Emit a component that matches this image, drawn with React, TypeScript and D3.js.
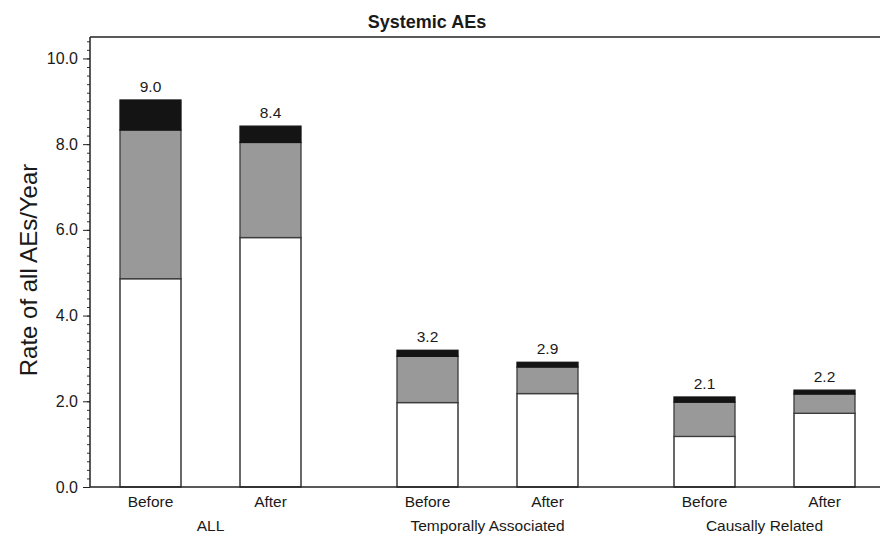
import React, { useEffect, useRef } from 'react';
import * as d3 from 'd3';

// Data
const groups = ['ALL', 'Temporally Associated', 'Causally Related'];
const periods = ['Before', 'After'];
// segment values, order: ALL-Before, ALL-After, TA-Before, TA-After, CR-Before, CR-After
const whiteVals = [4.86, 5.82, 1.97, 2.18, 1.18, 1.72];
const grayVals = [3.47, 2.22, 1.08, 0.62, 0.8, 0.45];
const blackVals = [0.7, 0.38, 0.14, 0.11, 0.12, 0.09];
const totalLabels = ['9.0', '8.4', '3.2', '2.9', '2.1', '2.2'];
const yTicks = [0, 2, 4, 6, 8, 10];

const FONT = '"Liberation Sans", Arial, Helvetica, sans-serif';

const App = () => {
  const svgRef = useRef(null);

  useEffect(() => {
    d3.select(svgRef.current).selectAll('*').remove();

    const W = 880;
    const H = 538;
    const left = 90;
    const right = 880;
    const top = 37;
    const bottom = 487;

    const svg = d3
      .select(svgRef.current)
      .attr('width', W)
      .attr('height', H)
      .style('font-family', FONT);

    // scales
    const yScale = d3.scaleLinear().domain([0, 10.5]).range([bottom, top]);
    const xGroup = d3.scaleBand().domain(groups).range([72, 903]).padding(0);
    const xInner = d3
      .scaleBand()
      .domain(periods)
      .range([48, 229])
      .paddingInner(59 / 120)
      .paddingOuter(0);

    const bars = [];
    groups.forEach((g, gi) => {
      periods.forEach((p, pi) => {
        const i = gi * 2 + pi;
        const x = xGroup(g) + xInner(p);
        const w = xInner.bandwidth();
        const s0 = whiteVals[i];
        const s1 = s0 + grayVals[i];
        const s2 = s1 + blackVals[i];
        bars.push({ g, p, x, w, segs: [[0, s0], [s0, s1], [s1, s2]], label: totalLabels[i] });
      });
    });

    const fills = ['#ffffff', '#999999', '#141414'];
    const strokes = ['#1a1a1a', '#3c3c3c', '#141414'];

    // bars
    const barG = svg.append('g');
    bars.forEach((b) => {
      b.segs.forEach((s, k) => {
        barG
          .append('rect')
          .attr('x', b.x)
          .attr('y', yScale(s[1]))
          .attr('width', b.w)
          .attr('height', yScale(s[0]) - yScale(s[1]))
          .attr('fill', fills[k])
          .attr('stroke', strokes[k])
          .attr('stroke-width', 1.3);
      });
      // total labels
      barG
        .append('text')
        .attr('x', b.x + b.w / 2)
        .attr('y', yScale(b.segs[2][1]) - 8)
        .attr('text-anchor', 'middle')
        .attr('font-size', 15.5)
        .attr('fill', '#1a1a1a')
        .text(b.label);
    });

    // frame lines: top and bottom
    svg
      .append('line')
      .attr('x1', left)
      .attr('x2', right)
      .attr('y1', top)
      .attr('y2', top)
      .attr('stroke', '#222')
      .attr('stroke-width', 1.5);
    svg
      .append('line')
      .attr('x1', left)
      .attr('x2', right)
      .attr('y1', bottom)
      .attr('y2', bottom)
      .attr('stroke', '#222')
      .attr('stroke-width', 1.5);

    // Y axis minor ticks
    const yAxisG = svg.append('g').attr('transform', `translate(${left},0)`);
    yAxisG
      .call(
        d3
          .axisLeft(yScale)
          .tickValues(d3.range(0, 10.5, 0.2))
          .tickSize(3)
          .tickFormat(() => '')
      )
      .call((g) => g.select('.domain').remove());
    yAxisG.selectAll('line').attr('stroke', '#333');

    // Y axis major ticks
    const yMajor = svg.append('g').attr('transform', `translate(${left},0)`);
    yMajor
      .call(d3.axisLeft(yScale).tickValues(yTicks).tickSize(7).tickPadding(5).tickFormat(d3.format('.1f')))
      .call((g) => g.select('.domain').attr('stroke', '#222').attr('stroke-width', 1.5).attr('d', `M0,${top}V${bottom}`));
    yMajor.selectAll('line').attr('stroke', '#222');
    yMajor
      .selectAll('text')
      .attr('font-size', 16)
      .attr('font-family', FONT)
      .attr('fill', '#1a1a1a');

    // X labels
    bars.forEach((b) => {
      svg
        .append('text')
        .attr('x', b.x + b.w / 2)
        .attr('y', 507)
        .attr('text-anchor', 'middle')
        .attr('font-size', 15.5)
        .attr('fill', '#1a1a1a')
        .text(b.p);
    });
    groups.forEach((g) => {
      svg
        .append('text')
        .attr('x', xGroup(g) + xGroup.bandwidth() / 2)
        .attr('y', 531)
        .attr('text-anchor', 'middle')
        .attr('font-size', 15.5)
        .attr('fill', '#1a1a1a')
        .text(g);
    });

    // title
    svg
      .append('text')
      .attr('x', 427)
      .attr('y', 28)
      .attr('text-anchor', 'middle')
      .attr('font-size', 18)
      .attr('font-weight', 'bold')
      .attr('fill', '#1a1a1a')
      .text('Systemic AEs');

    // y axis title
    svg
      .append('text')
      .attr('transform', 'translate(37,270) rotate(-90)')
      .attr('text-anchor', 'middle')
      .attr('font-size', 24)
      .attr('fill', '#1a1a1a')
      .text('Rate of all AEs/Year');
  }, []);

  return (
    <div style={{ position: 'absolute', left: 0, top: 0 }}>
      <svg ref={svgRef}></svg>
    </div>
  );
};

export default App;
